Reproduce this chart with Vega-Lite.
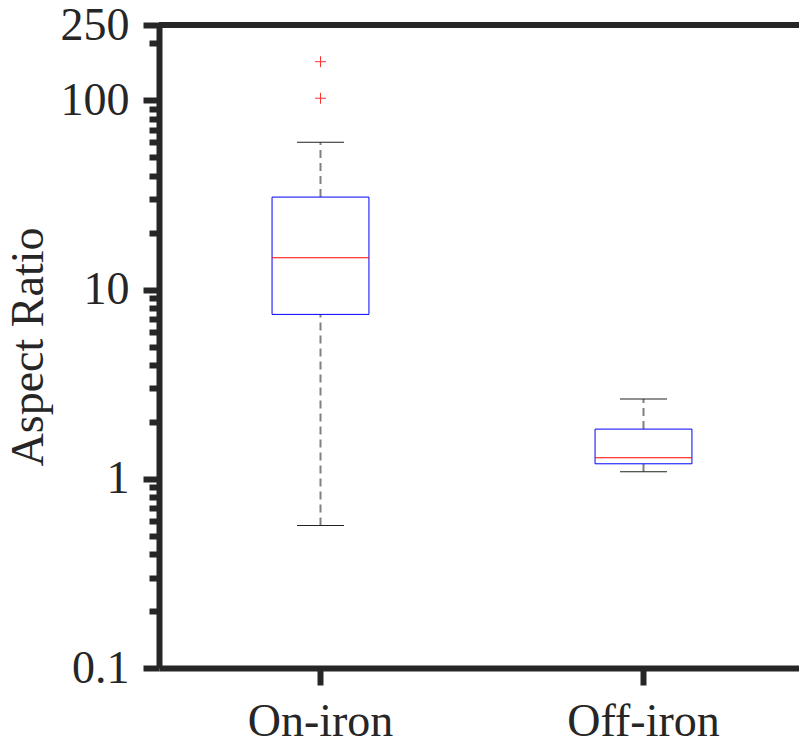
{
  "$schema": "https://vega.github.io/schema/vega-lite/v6.json",
  "autosize": {"type": "none"},
  "padding": {"left": 159, "top": 25, "right": 0, "bottom": 79},
  "width": 640,
  "height": 643,
  "background": "white",
  "config": {
    "view": {"stroke": null},
    "font": "Liberation Serif",
    "axis": {"grid": false, "labelFont": "Liberation Serif", "titleFont": "Liberation Serif", "labelColor": "#262626", "titleColor": "#262626", "domainColor": "#262626", "tickColor": "#262626"}
  },
  "datasets": {
    "summary": [
      {"group": "On-iron", "lower": 0.566, "q1": 7.39, "median": 14.7, "q3": 30.8, "upper": 60.1},
      {"group": "Off-iron", "lower": 1.09, "q1": 1.2, "median": 1.29, "q3": 1.83, "upper": 2.64}
    ],
    "outliers": [
      {"group": "On-iron", "value": 160},
      {"group": "On-iron", "value": 102.5}
    ],
    "top": [{"v": 250}]
  },
  "resolve": {"scale": {"y": "shared", "x": "shared"}, "axis": {"y": "independent"}},
  "layer": [
    {
      "data": {"name": "summary"},
      "mark": {"type": "rule", "color": "#808080", "strokeWidth": 2, "strokeDash": [8, 5]},
      "encoding": {
        "x": {"field": "group", "type": "nominal", "sort": ["On-iron", "Off-iron"],
          "scale": {"domain": ["On-iron", "Off-iron"], "range": [0, 646], "paddingInner": 0, "paddingOuter": 0},
          "axis": {"title": null, "labelFontSize": 46, "labelAngle": 0, "domainWidth": 6, "tickWidth": 6, "tickSize": 17, "labelPadding": 14}},
        "y": {"field": "q3", "type": "quantitative",
          "scale": {"type": "log", "domain": [0.1, 250], "nice": false},
          "axis": {"orient": "left", "values": [0.1, 1, 10, 100, 250], "format": "~g", "labelFontSize": 46, "tickSize": 16, "tickWidth": 6, "domainWidth": 6, "labelPadding": 14, "title": "Aspect Ratio", "titleFontSize": 46, "titleFontWeight": "normal", "titlePadding": 8}},
        "y2": {"field": "upper"}
      }
    },
    {
      "data": {"name": "summary"},
      "mark": {"type": "rule", "color": "#808080", "strokeWidth": 2, "strokeDash": [8, 5]},
      "encoding": {
        "x": {"field": "group", "type": "nominal"},
        "y": {"field": "lower", "type": "quantitative",
          "axis": {"orient": "left", "values": [0.2, 0.3, 0.4, 0.5, 0.6, 0.7, 0.8, 0.9, 2, 3, 4, 5, 6, 7, 8, 9, 20, 30, 40, 50, 60, 70, 80, 90, 200], "labels": false, "domain": false, "tickSize": 10, "tickWidth": 6, "title": null}},
        "y2": {"field": "q1"}
      }
    },
    {
      "data": {"name": "summary"},
      "mark": {"type": "tick", "color": "#222222", "size": 47, "thickness": 1, "opacity": 1},
      "encoding": {
        "x": {"field": "group", "type": "nominal"},
        "y": {"field": "upper", "type": "quantitative", "axis": null}
      }
    },
    {
      "data": {"name": "summary"},
      "mark": {"type": "tick", "color": "#222222", "size": 47, "thickness": 1, "opacity": 1},
      "encoding": {
        "x": {"field": "group", "type": "nominal"},
        "y": {"field": "lower", "type": "quantitative", "axis": null}
      }
    },
    {
      "data": {"name": "summary"},
      "mark": {"type": "bar", "fill": "white", "fillOpacity": 0, "stroke": "#0000ff", "strokeWidth": 1, "width": {"band": 0.3}},
      "encoding": {
        "x": {"field": "group", "type": "nominal"},
        "y": {"field": "q1", "type": "quantitative", "axis": null},
        "y2": {"field": "q3"}
      }
    },
    {
      "data": {"name": "summary"},
      "mark": {"type": "tick", "color": "#ff0000", "size": 97, "thickness": 1, "opacity": 1},
      "encoding": {
        "x": {"field": "group", "type": "nominal"},
        "y": {"field": "median", "type": "quantitative", "axis": null}
      }
    },
    {
      "data": {"name": "outliers"},
      "mark": {"type": "point", "shape": "M-1,0L1,0M0,-1L0,1", "filled": false, "stroke": "#ff0000", "strokeWidth": 1, "size": 121, "opacity": 0.8},
      "encoding": {
        "x": {"field": "group", "type": "nominal"},
        "y": {"field": "value", "type": "quantitative", "axis": null}
      }
    },
    {
      "data": {"name": "top"},
      "mark": {"type": "rule", "color": "#262626", "strokeWidth": 6},
      "encoding": {
        "y": {"field": "v", "type": "quantitative", "axis": null}
      }
    }
  ]
}
